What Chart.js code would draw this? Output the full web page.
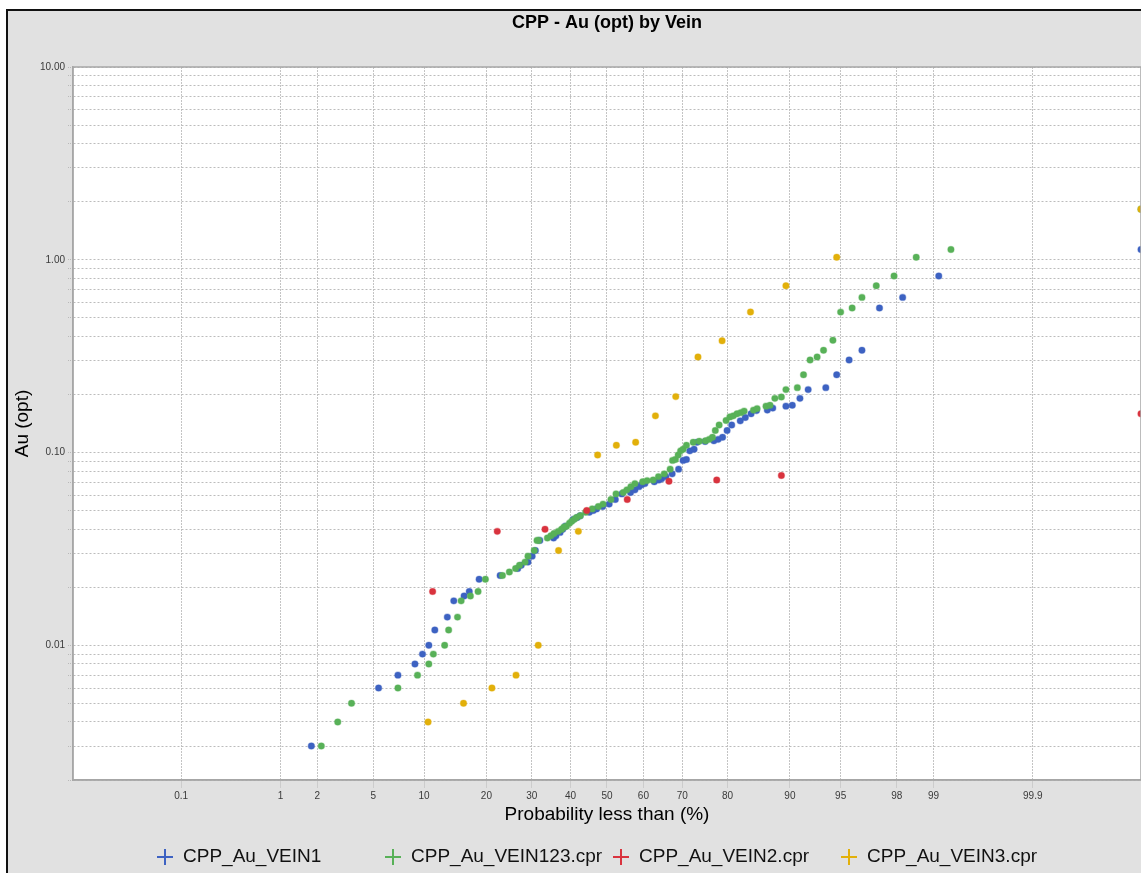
<!DOCTYPE html>
<html>
<head>
<meta charset="utf-8">
<title>CPP - Au (opt) by Vein</title>
<script src="https://cdn.jsdelivr.net/npm/chart.js@4/dist/chart.umd.min.js"></script>
<style>
  html, body { margin: 0; padding: 0; background: #ffffff; overflow: hidden; }
  canvas { display: block; }
</style>
</head>
<body>
<canvas id="cpp" width="1141" height="873"></canvas>
<script>
// ---- data: cumulative probability (%) and Au (opt) for each vein file ----
const vein1Prob = [1.8, 5.4, 7.1, 8.9, 9.8, 10.6, 11.4, 13.2, 14.2, 15.9, 16.8, 18.6, 22.8, 26.7, 27.5, 29.1, 30.1, 30.9, 32.0, 35.5, 36.1, 37.2, 37.9, 38.6, 40.7, 41.8, 42.6, 45.1, 46.2, 47.1, 48.8, 50.6, 52.3, 54.1, 56.5, 57.7, 58.8, 59.5, 60.4, 62.9, 64.1, 64.8, 65.9, 67.5, 69.1, 70.2, 71.0, 71.8, 72.8, 73.5, 75.3, 77.2, 78.1, 79.0, 79.9, 80.8, 82.4, 83.3, 84.3, 85.2, 86.9, 87.7, 89.5, 90.3, 91.2, 92.1, 93.8, 94.7, 95.6, 96.4, 97.3, 98.2, 99.1, 100];
const vein1Au = [0.003, 0.006, 0.007, 0.008, 0.009, 0.010, 0.012, 0.014, 0.017, 0.018, 0.019, 0.022, 0.023, 0.025, 0.026, 0.027, 0.029, 0.031, 0.035, 0.036, 0.037, 0.0385, 0.040, 0.0415, 0.045, 0.046, 0.047, 0.049, 0.050, 0.051, 0.0525, 0.054, 0.057, 0.061, 0.062, 0.064, 0.0665, 0.068, 0.069, 0.0705, 0.072, 0.073, 0.075, 0.0775, 0.082, 0.091, 0.092, 0.102, 0.104, 0.113, 0.114, 0.115, 0.117, 0.120, 0.130, 0.139, 0.146, 0.152, 0.159, 0.165, 0.166, 0.170, 0.174, 0.176, 0.191, 0.212, 0.217, 0.253, 0.302, 0.339, 0.562, 0.638, 0.823, 1.13];

const vein123Prob = [2.15, 2.85, 3.57, 7.1, 9.2, 10.6, 11.2, 12.8, 13.4, 14.8, 15.4, 17.0, 18.4, 19.8, 23.3, 24.8, 26.2, 27.1, 28.4, 29.1, 30.6, 31.3, 31.7, 33.9, 34.8, 35.6, 36.7, 37.6, 38.2, 38.9, 39.7, 40.3, 41.0, 41.6, 42.6, 44.1, 45.9, 47.6, 48.9, 51.1, 52.5, 54.5, 55.5, 56.6, 57.7, 59.8, 61.0, 62.6, 64.0, 65.5, 67.0, 67.6, 68.3, 69.0, 69.6, 70.2, 71.0, 72.6, 74.0, 75.4, 76.2, 76.9, 77.5, 78.3, 79.7, 80.45, 81.1, 81.8, 82.5, 83.1, 84.7, 85.3, 86.7, 87.3, 88.0, 88.9, 89.5, 90.9, 91.6, 92.3, 93.0, 93.6, 94.4, 95.0, 95.8, 96.4, 97.15, 97.9, 98.6, 99.3, 100];
const vein123Au = [0.003, 0.004, 0.005, 0.006, 0.007, 0.008, 0.009, 0.010, 0.012, 0.014, 0.017, 0.018, 0.019, 0.022, 0.023, 0.024, 0.025, 0.026, 0.027, 0.029, 0.031, 0.035, 0.035, 0.036, 0.037, 0.038, 0.039, 0.040, 0.041, 0.0415, 0.043, 0.044, 0.045, 0.046, 0.047, 0.049, 0.051, 0.0525, 0.054, 0.057, 0.061, 0.062, 0.064, 0.0665, 0.069, 0.0705, 0.0715, 0.072, 0.075, 0.0775, 0.082, 0.091, 0.092, 0.097, 0.102, 0.104, 0.109, 0.113, 0.1145, 0.115, 0.117, 0.120, 0.130, 0.139, 0.1465, 0.153, 0.155, 0.159, 0.161, 0.164, 0.166, 0.169, 0.174, 0.176, 0.191, 0.194, 0.212, 0.217, 0.253, 0.302, 0.313, 0.339, 0.382, 0.535, 0.562, 0.638, 0.733, 0.823, 1.03, 1.13, 1.83];

const vein2Prob = [11.1, 22.2, 33.3, 44.4, 55.6, 66.7, 77.8, 88.9, 100];
const vein2Au = [0.019, 0.039, 0.040, 0.050, 0.057, 0.071, 0.072, 0.076, 0.159];

const vein3Prob = [10.5, 15.8, 21.1, 26.3, 31.6, 36.8, 42.1, 47.4, 52.6, 57.9, 63.2, 68.4, 73.7, 78.9, 84.2, 89.5, 94.7, 100];
const vein3Au = [0.004, 0.005, 0.006, 0.007, 0.010, 0.031, 0.039, 0.097, 0.109, 0.113, 0.155, 0.195, 0.313, 0.380, 0.536, 0.733, 1.03, 1.83];

const seriesNames = ['CPP_Au_VEIN1', 'CPP_Au_VEIN123.cpr', 'CPP_Au_VEIN2.cpr', 'CPP_Au_VEIN3.cpr'];

// ---- axis ticks ----
const probTicks = [0.1, 1, 2, 5, 10, 20, 30, 40, 50, 60, 70, 80, 90, 95, 98, 99, 99.9];
const probTickLabels = ['0.1', '1', '2', '5', '10', '20', '30', '40', '50', '60', '70', '80', '90', '95', '98', '99', '99.9'];
const auDecades = [0.01, 0.1, 1, 10];
const auDecadeLabels = ['0.01', '0.10', '1.00', '10.00'];

// ---- probability axis: normal quantile, tails slightly compressed ----
function normInv(p) {
  const a = [-3.969683028665376e+01, 2.209460984245205e+02, -2.759285104469687e+02, 1.383577518672690e+02, -3.066479806614716e+01, 2.506628277459239e+00];
  const b = [-5.447609879822406e+01, 1.615858368580409e+02, -1.556989798598866e+02, 6.680131188771972e+01, -1.328068155288572e+01];
  const c = [-7.784894002430293e-03, -3.223964580411365e-01, -2.400758277161838e+00, -2.549732539343734e+00, 4.374664141464968e+00, 2.938163982698783e+00];
  const d = [7.784695709041462e-03, 3.224671290700398e-01, 2.445134137142996e+00, 3.754408661907416e+00];
  const pl = 0.02425, ph = 1 - pl;
  let q, r;
  if (p < pl) {
    q = Math.sqrt(-2 * Math.log(p));
    return (((((c[0]*q+c[1])*q+c[2])*q+c[3])*q+c[4])*q+c[5]) / ((((d[0]*q+d[1])*q+d[2])*q+d[3])*q+1);
  }
  if (p > ph) {
    q = Math.sqrt(-2 * Math.log(1 - p));
    return -(((((c[0]*q+c[1])*q+c[2])*q+c[3])*q+c[4])*q+c[5]) / ((((d[0]*q+d[1])*q+d[2])*q+d[3])*q+1);
  }
  q = p - 0.5; r = q * q;
  return (((((a[0]*r+a[1])*r+a[2])*r+a[3])*r+a[4])*r+a[5])*q / (((((b[0]*r+b[1])*r+b[2])*r+b[3])*r+b[4])*r+1);
}
const TAIL = 0.004325;
function warp(percent) {
  const z = normInv(percent / 100);
  return z - TAIL * z * z * z;
}

class ProbabilityScale extends Chart.Scale {
  static id = 'probability';
  static defaults = {};
  determineDataLimits() {
    this.min = this.options.min;
    this.max = this.options.max;
  }
  buildTicks() {
    return probTicks.map(v => ({ value: v }));
  }
  getLabelForValue(v) { return String(v); }
  configure() {
    super.configure();
    this._u0 = warp(this.min);
    this._u1 = warp(this.max);
  }
  getPixelForValue(v) {
    const p = Math.min(Math.max(v, this.min), this.max);
    return this.getPixelForDecimal((warp(p) - this._u0) / (this._u1 - this._u0));
  }
  getValueForPixel(px) {
    const target = this._u0 + this.getDecimalForPixel(px) * (this._u1 - this._u0);
    let lo = this.min, hi = this.max;
    for (let i = 0; i < 60; i++) {
      const mid = (lo + hi) / 2;
      if (warp(mid) < target) lo = mid; else hi = mid;
    }
    return (lo + hi) / 2;
  }
}
Chart.register(ProbabilityScale);

// ---- page frame, plot background and the fixed-column legend ----
const colors = ['#3d62c2', '#58b158', '#d9333e', '#e2b00a'];
const halos = ['rgba(61,98,194,0.35)', 'rgba(88,177,88,0.35)', 'rgba(217,51,62,0.35)', 'rgba(226,176,10,0.35)'];

const framePlugin = {
  id: 'frame',
  beforeDraw(chart) {
    const { ctx, width, height, chartArea: a } = chart;
    ctx.save();
    ctx.fillStyle = '#ffffff';
    ctx.fillRect(0, 0, width, height);
    ctx.fillStyle = '#e1e1e1';
    ctx.fillRect(8, 11, width - 8, height - 11);
    ctx.fillStyle = '#111111';
    ctx.fillRect(6, 9, 2, height - 9);
    ctx.fillRect(6, 9, width - 6, 2);
    ctx.fillStyle = '#ffffff';
    ctx.fillRect(a.left, a.top, a.right - a.left, a.bottom - a.top);
    ctx.restore();
  },
  afterDraw(chart) {
    const { ctx, chartArea: a } = chart;
    ctx.save();
    ctx.strokeStyle = '#a6a6a6';
    ctx.lineWidth = 1.5;
    ctx.strokeRect(a.left, a.top, a.right - a.left, a.bottom - a.top);
    // legend: colored cross + file name in equal columns
    const colW = 228;
    const x0 = a.left + 84;
    const y = chart.height - 16;
    ctx.font = '19px "Liberation Sans", Arial, sans-serif';
    ctx.textBaseline = 'middle';
    ctx.textAlign = 'left';
    seriesNames.forEach((name, i) => {
      const cx = x0 + i * colW + 8;
      ctx.strokeStyle = colors[i];
      ctx.lineWidth = 2;
      ctx.beginPath();
      ctx.moveTo(cx - 8, y); ctx.lineTo(cx + 8, y);
      ctx.moveTo(cx, y - 8); ctx.lineTo(cx, y + 8);
      ctx.stroke();
      ctx.fillStyle = '#111111';
      ctx.fillText(name, cx + 18, y);
    });
    ctx.restore();
  }
};

function pairs(px, py) { return px.map((p, i) => ({ x: p, y: py[i] })); }
function ds(i, px, py, order) {
  return {
    label: seriesNames[i],
    data: pairs(px, py),
    order: order,
    pointRadius: 3.2,
    pointBorderWidth: 1.2,
    pointBackgroundColor: colors[i],
    pointBorderColor: halos[i],
    showLine: false
  };
}

const gridValues = [];
[0.001, 0.01, 0.1, 1].forEach(dec => {
  for (let m = 1; m <= 9; m++) {
    const v = +(dec * m).toPrecision(3);
    if (v >= 0.002 && v <= 10) gridValues.push(v);
  }
});
gridValues.push(10);

function decadeLabel(v) {
  for (let i = 0; i < auDecades.length; i++) {
    if (Math.abs(Math.log10(v) - Math.log10(auDecades[i])) < 1e-6) return auDecadeLabels[i];
  }
  return '';
}

const tickFont = { family: '"Liberation Sans", Arial, sans-serif', size: 10 };
const titleFont = { family: '"Liberation Sans", Arial, sans-serif', size: 19 };

new Chart(document.getElementById('cpp'), {
  type: 'scatter',
  data: {
    datasets: [
      ds(0, vein1Prob, vein1Au, 3),
      ds(1, vein123Prob, vein123Au, 2),
      ds(2, vein2Prob, vein2Au, 1),
      ds(3, vein3Prob, vein3Au, 0)
    ]
  },
  options: {
    responsive: false,
    animation: false,
    events: [],
    layout: { autoPadding: false, padding: { left: 9, top: 11, right: 0, bottom: 40 } },
    plugins: {
      legend: { display: false },
      tooltip: { enabled: false },
      title: {
        display: true,
        text: 'CPP - Au (opt) by Vein',
        fullSize: false,
        color: '#000000',
        font: { family: '"Liberation Sans", Arial, sans-serif', size: 18, weight: 'bold' },
        padding: { top: 1.5, bottom: 32.9 }
      }
    },
    scales: {
      x: {
        type: 'probability',
        min: 0.0033,
        max: 99.9967,
        afterFit(scale) { scale.height = 53; },
        ticks: {
          autoSkip: false,
          maxRotation: 0,
          padding: 2,
          color: '#3a3a3a',
          font: tickFont,
          callback(value, index) { return probTickLabels[index]; }
        },
        grid: {
          color: '#c4c4c4',
          lineWidth: 1,
          tickLength: 8,
          tickColor: '#b8b8b8',
          tickBorderDash: [1, 1]
        },
        border: { display: true, color: '#a6a6a6', width: 1.5, dash: [2, 1] },
        title: {
          display: true,
          text: 'Probability less than (%)',
          color: '#000000',
          font: titleFont,
          padding: { top: 0, bottom: 7 }
        }
      },
      y: {
        type: 'logarithmic',
        min: 0.002,
        max: 10,
        afterFit(scale) { scale.width = 64; },
        afterBuildTicks(scale) { scale.ticks = gridValues.map(v => ({ value: v })); },
        ticks: {
          autoSkip: false,
          padding: 3,
          color: '#3a3a3a',
          font: tickFont,
          callback(value) { return decadeLabel(value); }
        },
        grid: {
          color: '#bcbcbc',
          lineWidth: 1,
          tickLength: 5,
          tickColor: '#b8b8b8',
          tickBorderDash: [1, 1]
        },
        border: { display: true, color: '#a6a6a6', width: 1.5, dash: [2, 2] },
        title: {
          display: true,
          text: 'Au (opt)',
          color: '#000000',
          font: titleFont,
          padding: { top: 2, bottom: 0 }
        }
      }
    }
  },
  plugins: [framePlugin]
});
</script>
</body>
</html>
